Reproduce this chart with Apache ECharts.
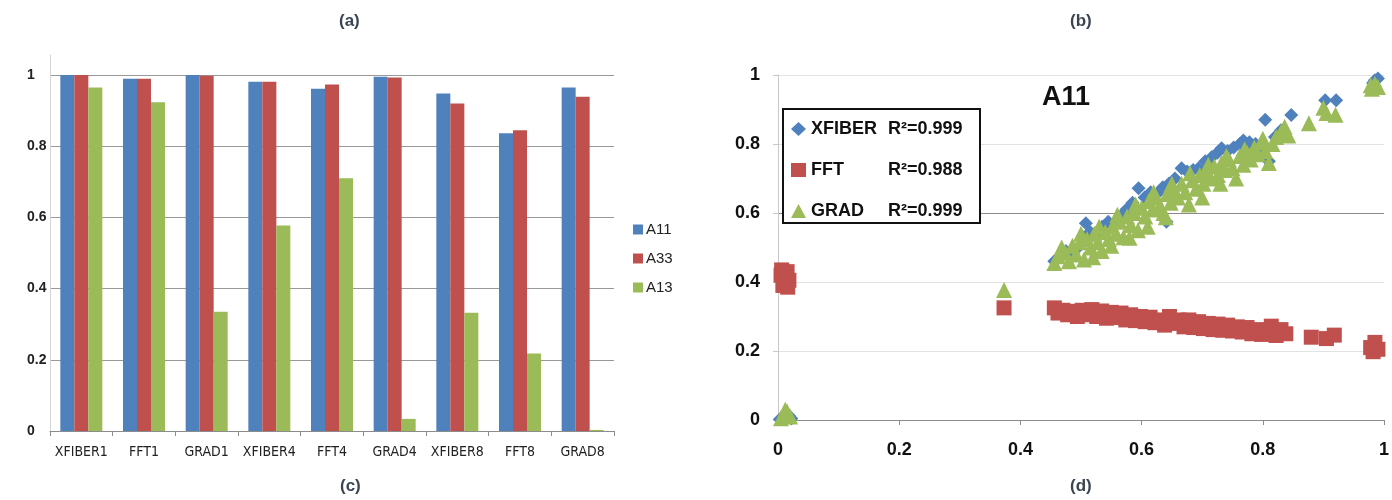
<!DOCTYPE html>
<html>
<head>
<meta charset="utf-8">
<script src="https://cdn.jsdelivr.net/npm/echarts@6/dist/echarts.min.js"></script>
<style>
  html, body { margin: 0; padding: 0; background: #fff; }
  #chart { width: 1392px; height: 500px; }
</style>
</head>
<body>
<div id="chart"></div>
<script>
// ---- panel (c): orientation tensor components per method / window ----
const methods = ['XFIBER1', 'FFT1', 'GRAD1', 'XFIBER4', 'FFT4', 'GRAD4', 'XFIBER8', 'FFT8', 'GRAD8'];
const a11 = [1.000, 0.989, 1.000, 0.981, 0.961, 0.995, 0.948, 0.836, 0.965];
const a33 = [1.000, 0.989, 0.998, 0.981, 0.973, 0.993, 0.920, 0.845, 0.939];
const a13 = [0.965, 0.923, 0.335, 0.577, 0.710, 0.034, 0.332, 0.218, 0.003];
const barTicks = [0, 0.2, 0.4, 0.6, 0.8, 1];

// ---- panel (d): measured A11 vs. reference A11 ----
const xfiberPts = [
  [0.003, 0.002], [0.010, 0.008], [0.018, 0.012], [0.022, 0.004],
  [0.456, 0.460], [0.465, 0.475], [0.475, 0.490], [0.485, 0.485], [0.495, 0.500],
  [0.505, 0.530], [0.508, 0.570], [0.515, 0.545], [0.525, 0.530], [0.535, 0.560],
  [0.545, 0.575], [0.557, 0.570], [0.565, 0.590], [0.575, 0.610], [0.585, 0.630],
  [0.595, 0.672], [0.605, 0.645], [0.615, 0.660], [0.625, 0.655], [0.635, 0.675],
  [0.641, 0.575], [0.645, 0.685], [0.655, 0.700], [0.666, 0.730], [0.675, 0.720],
  [0.685, 0.725], [0.694, 0.730], [0.705, 0.750], [0.716, 0.762], [0.725, 0.775],
  [0.732, 0.788], [0.742, 0.780], [0.752, 0.790], [0.762, 0.800], [0.768, 0.810],
  [0.778, 0.805], [0.788, 0.800], [0.795, 0.770], [0.804, 0.870], [0.810, 0.750],
  [0.820, 0.820], [0.830, 0.840], [0.847, 0.884], [0.903, 0.927], [0.921, 0.927],
  [0.982, 0.977], [0.990, 0.990], [0.985, 0.985]
];
const fftPts = [
  [0.005, 0.420], [0.010, 0.400], [0.015, 0.430], [0.008, 0.390], [0.012, 0.415],
  [0.018, 0.405], [0.006, 0.435], [0.016, 0.385],
  [0.373, 0.325],
  [0.456, 0.325], [0.462, 0.310], [0.470, 0.318], [0.478, 0.305], [0.486, 0.315],
  [0.494, 0.300], [0.502, 0.318], [0.510, 0.305], [0.518, 0.320], [0.526, 0.300],
  [0.534, 0.316], [0.542, 0.295], [0.550, 0.312], [0.558, 0.297], [0.566, 0.310],
  [0.574, 0.290], [0.582, 0.305], [0.590, 0.288], [0.598, 0.300], [0.606, 0.285],
  [0.614, 0.298], [0.622, 0.282], [0.630, 0.290], [0.638, 0.275], [0.646, 0.300],
  [0.654, 0.280], [0.662, 0.290], [0.670, 0.270], [0.678, 0.290], [0.686, 0.268],
  [0.694, 0.285], [0.702, 0.265], [0.710, 0.280], [0.718, 0.262], [0.726, 0.278],
  [0.734, 0.260], [0.742, 0.275], [0.750, 0.258], [0.758, 0.270], [0.766, 0.255],
  [0.774, 0.268], [0.782, 0.250], [0.790, 0.262], [0.798, 0.248], [0.806, 0.258],
  [0.814, 0.272], [0.822, 0.245], [0.830, 0.262], [0.838, 0.250], [0.880, 0.240],
  [0.905, 0.236], [0.918, 0.246], [0.978, 0.210], [0.985, 0.225], [0.990, 0.205],
  [0.982, 0.198]
];
const gradPts = [
  [0.373, 0.377],
  [0.005, 0.005], [0.010, 0.015], [0.015, 0.025], [0.020, 0.010], [0.012, 0.030],
  [0.456, 0.455], [0.462, 0.475], [0.468, 0.500], [0.474, 0.485], [0.480, 0.460],
  [0.486, 0.505], [0.492, 0.480], [0.498, 0.515], [0.505, 0.465], [0.510, 0.525],
  [0.516, 0.500], [0.522, 0.540], [0.528, 0.515], [0.534, 0.490], [0.540, 0.545],
  [0.546, 0.525], [0.552, 0.560], [0.558, 0.540], [0.564, 0.575], [0.570, 0.530],
  [0.576, 0.590], [0.582, 0.565], [0.588, 0.600], [0.594, 0.550], [0.600, 0.615],
  [0.606, 0.590], [0.612, 0.635], [0.618, 0.610], [0.624, 0.645], [0.630, 0.620],
  [0.636, 0.600], [0.642, 0.655], [0.648, 0.630], [0.654, 0.665], [0.660, 0.645],
  [0.666, 0.685], [0.672, 0.660], [0.678, 0.625], [0.684, 0.695], [0.690, 0.670],
  [0.696, 0.710], [0.702, 0.685], [0.708, 0.720], [0.714, 0.700], [0.720, 0.735],
  [0.726, 0.710], [0.732, 0.745], [0.738, 0.725], [0.744, 0.755], [0.750, 0.730],
  [0.756, 0.700], [0.762, 0.765], [0.768, 0.740], [0.774, 0.775], [0.780, 0.755],
  [0.786, 0.790], [0.792, 0.770], [0.798, 0.805], [0.804, 0.780], [0.810, 0.745],
  [0.816, 0.800], [0.822, 0.820], [0.830, 0.835], [0.836, 0.850], [0.842, 0.825],
  [0.876, 0.860], [0.900, 0.905], [0.905, 0.890], [0.920, 0.885], [0.980, 0.960],
  [0.985, 0.975], [0.990, 0.965], [0.978, 0.970],
  [0.500, 0.540], [0.530, 0.560], [0.560, 0.595], [0.590, 0.625], [0.620, 0.660],
  [0.650, 0.685], [0.680, 0.715], [0.710, 0.740], [0.740, 0.765], [0.770, 0.785],
  [0.800, 0.815], [0.520, 0.472], [0.550, 0.505], [0.580, 0.528], [0.610, 0.560],
  [0.640, 0.588], [0.700, 0.645], [0.730, 0.685]
];
const r2 = { XFIBER: '0.999', FFT: '0.988', GRAD: '0.999' };
const scatterTicks = [0, 0.2, 0.4, 0.6, 0.8, 1];

const BLUE = '#4f81bd', RED = '#c0504d', GREEN = '#9bbb59';
const CAPTION = { font: 'bold 17px "Liberation Sans", Arial, sans-serif', fill: '#3b4553' };

const chart = echarts.init(document.getElementById('chart'), null, { renderer: 'canvas' });

chart.setOption({
  animation: false,
  backgroundColor: '#ffffff',
  title: [{
    text: 'A11',
    left: 1037, top: 79,
    textStyle: { fontFamily: '"Liberation Sans", Arial, sans-serif', fontSize: 27, fontWeight: 'bold', color: '#111' }
  }],
  graphic: [
    { type: 'text', left: 339, top: 13, style: { text: '(a)', ...CAPTION } },
    { type: 'text', left: 1070, top: 13, style: { text: '(b)', ...CAPTION } },
    { type: 'text', left: 340, top: 478, style: { text: '(c)', ...CAPTION } },
    { type: 'text', left: 1070, top: 478, style: { text: '(d)', ...CAPTION } }
  ],
  legend: [
    {
      data: ['A11', 'A33', 'A13'],
      orient: 'vertical',
      left: 628, top: 217,
      itemWidth: 10, itemHeight: 10, itemGap: 14,
      icon: 'rect',
      textStyle: { fontFamily: '"Liberation Sans", Arial, sans-serif', fontSize: 15, color: '#222', padding: [0, 0, 0, -2] }
    },
    {
      data: ['XFIBER', 'FFT', 'GRAD'],
      orient: 'vertical',
      left: 783, top: 109,
      padding: [11, 8, 3, 8],
      itemWidth: 15, itemHeight: 14, itemGap: 23,
      backgroundColor: '#fff',
      borderColor: '#111', borderWidth: 2,
      formatter: name => `{n|${name}}{r|R²=${r2[name]}}`,
      textStyle: {
        fontFamily: '"Liberation Sans", Arial, sans-serif', fontSize: 18, fontWeight: 'bold', color: '#111',
        rich: {
          n: { width: 77, fontSize: 18, fontWeight: 'bold', lineHeight: 20 },
          r: { width: 84, fontSize: 18, fontWeight: 'bold', lineHeight: 20 }
        }
      }
    }
  ],
  grid: [
    { left: 50, right: 778, top: 55, bottom: 69 },
    { left: 778, right: 6, top: 75, bottom: 80 }
  ],
  xAxis: [
    {
      gridIndex: 0,
      type: 'category',
      data: methods,
      axisLine: { lineStyle: { color: '#8c8c8c', width: 1 } },
      axisTick: { show: true, length: 5, lineStyle: { color: '#8c8c8c' } },
      axisLabel: {
        margin: 14,
        fontFamily: '"DejaVu Sans Condensed", "Liberation Sans", Arial, sans-serif',
        fontSize: 14, color: '#222', interval: 0
      }
    },
    {
      gridIndex: 1,
      type: 'value',
      min: 0, max: 1, interval: 0.2,
      axisLine: { lineStyle: { color: '#8c8c8c' } },
      axisTick: { show: true, length: 5, lineStyle: { color: '#8c8c8c' } },
      splitLine: { show: false },
      axisLabel: {
        margin: 21,
        fontFamily: '"Liberation Sans", Arial, sans-serif',
        fontSize: 18, fontWeight: 'bold', color: '#111',
        formatter: v => String(scatterTicks.find(t => Math.abs(t - v) < 1e-9) ?? v)
      }
    }
  ],
  yAxis: [
    {
      gridIndex: 0,
      type: 'value',
      min: 0, max: 1.056, interval: 0.2,
      axisLine: { show: true, lineStyle: { color: '#d4d4d4' } },
      axisTick: { show: false },
      splitLine: { show: true, showMaxLine: false, lineStyle: { color: '#999999', width: 1 } },
      axisLabel: {
        showMaxLabel: false,
        margin: 23, align: 'left',
        fontFamily: '"Liberation Sans", Arial, sans-serif',
        fontSize: 14, fontWeight: 'bold', color: '#222',
        formatter: v => String(barTicks.find(t => Math.abs(t - v) < 1e-9) ?? '')
      }
    },
    {
      gridIndex: 1,
      type: 'value',
      min: 0, max: 1, interval: 0.2,
      axisLine: { show: true, lineStyle: { color: '#c8c8c8' } },
      axisTick: { show: true, length: 5, lineStyle: { color: '#c8c8c8' } },
      splitLine: {
        show: true,
        lineStyle: { color: ['#e2e2e2', '#e2e2e2', '#e2e2e2', '#8a8a8a', '#e2e2e2', '#e2e2e2'], width: 1 }
      },
      axisLabel: {
        margin: 18,
        fontFamily: '"Liberation Sans", Arial, sans-serif',
        fontSize: 18, fontWeight: 'bold', color: '#111',
        formatter: v => String(scatterTicks.find(t => Math.abs(t - v) < 1e-9) ?? v)
      }
    }
  ],
  series: [
    { name: 'A11', type: 'bar', xAxisIndex: 0, yAxisIndex: 0, data: a11, barWidth: 14, barGap: '0%', itemStyle: { color: BLUE } },
    { name: 'A33', type: 'bar', xAxisIndex: 0, yAxisIndex: 0, data: a33, barWidth: 14, barGap: '0%', itemStyle: { color: RED } },
    { name: 'A13', type: 'bar', xAxisIndex: 0, yAxisIndex: 0, data: a13, barWidth: 14, barGap: '0%', itemStyle: { color: GREEN } },
    { name: 'XFIBER', type: 'scatter', xAxisIndex: 1, yAxisIndex: 1, data: xfiberPts, symbol: 'diamond', symbolSize: 14, itemStyle: { color: BLUE, opacity: 1 } },
    { name: 'FFT', type: 'scatter', xAxisIndex: 1, yAxisIndex: 1, data: fftPts, symbol: 'rect', symbolSize: 15, itemStyle: { color: RED, opacity: 1 } },
    { name: 'GRAD', type: 'scatter', xAxisIndex: 1, yAxisIndex: 1, data: gradPts, symbol: 'triangle', symbolSize: [16, 16], itemStyle: { color: GREEN, opacity: 1 } }
  ]
});
</script>
</body>
</html>
